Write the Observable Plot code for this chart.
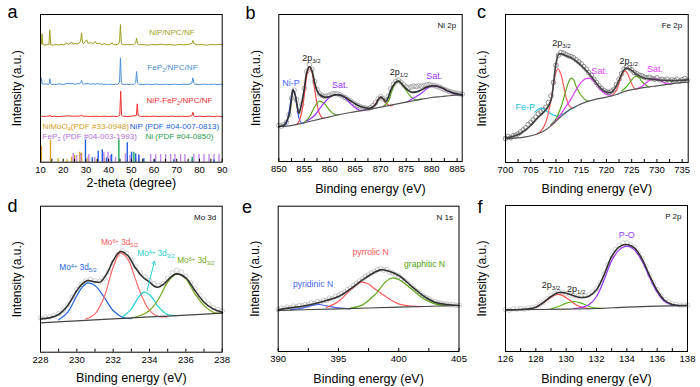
<!DOCTYPE html>
<html><head><meta charset="utf-8">
<script src="https://cdn.jsdelivr.net/npm/d3@7"></script>
<script src="https://cdn.jsdelivr.net/npm/@observablehq/plot@0.6"></script>
<style>
html,body{margin:0;padding:0;background:#fff;}
#fig{position:relative;width:700px;height:387px;overflow:hidden;background:#fff;}
#fig svg{position:absolute;overflow:visible;}
</style></head><body><div id="fig"></div>
<script>
// ---------------- Panel a : XRD (2-theta in degrees, intensity a.u.) ----------------
const xrdNiP = [[10,352],[10.4,354],[10.7,385],[11,353],[12,351],[13,353],[13.7,352],[14.1,397],[14.5,352],[15.5,351],[17,353],[18,351],[19,354],[20,352],[21,355],[21.7,358],[22.3,353],[23,356],[23.7,360],[24.3,354],[25,356],[26,355],[27,357],[27.6,362],[28.1,388],[28.5,358],[29,356],[29.7,362],[30.3,367],[30.8,358],[31.5,356],[32,360],[33,356],[34.2,362],[34.8,355],[36,357],[37,353],[38,355],[39,353],[40,352],[41,355],[41.5,358],[42,353],[43,352],[44,353],[44.8,360],[45.2,413],[45.6,360],[46,353],[47,352],[48,354],[49,352],[50,353],[51,352],[51.9,357],[52.3,372],[52.7,356],[53.5,352],[55,353],[57,351],[59,353],[61,352],[63,354],[65,352],[67,353],[69,351],[71,353],[73,352],[75,353],[76.6,356],[77.1,365],[77.5,356],[79,352],[81,353],[83,351],[85,353],[87,352],[89,353],[90,352]];
const xrdFeP2 = [[10,234],[10.2,240],[10.4,253],[10.7,236],[11.5,234],[12.5,235],[13.5,233],[13.8,236],[14.1,250],[14.4,235],[15,233],[16,234],[17,233],[18,235],[19,234],[20,233],[21,235],[22,237],[23,235],[24,236],[25,234],[26,235],[27,236],[27.7,238],[28.1,245],[28.5,236],[29,234],[30,235],[31,236],[32,234],[33,235],[34,234],[35,236],[36,234],[37,235],[38,233],[39,234],[40,233],[41,234],[42,233],[43,234],[44,233],[44.8,240],[45.2,313],[45.6,240],[46,234],[47,233],[48,234],[49,233],[50,234],[51,233],[51.9,238],[52.3,272],[52.7,238],[53.3,234],[55,233],[57,234],[59,233],[61,234],[63,233],[65,234],[67,233],[69,234],[71,233],[73,234],[75,233],[76.6,237],[77.1,253],[77.5,237],[78,234],[80,233],[82,234],[84,233],[86,234],[88,233],[90,234]];
const xrdComposite = [[10,137],[11,138],[12,137],[13,138],[13.8,138],[14.1,142],[14.4,138],[15,137],[16,138],[18,137],[20,138],[22,139],[24,138],[26,138],[27.7,139],[28.1,142],[28.5,138],[30,138],[32,137],[34,138],[36,137],[38,138],[40,137],[42,138],[44,137],[44.9,141],[45.3,213],[45.7,141],[46.2,138],[48,137],[50,138],[52.2,140],[52.6,175],[53,140],[54,137],[56,138],[58,137],[60,138],[62,137],[64,138],[66,137],[68,138],[70,137],[72,138],[74,137],[76.6,139],[77.1,150],[77.5,139],[78,137],[80,138],[82,137],[84,138],[86,137],[88,138],[90,137]];
const pdfNiMoO4 = [[10.4,48],[14.4,65],[17.8,10],[21.7,7],[23.7,15],[25.0,20],[27.3,30],[28.1,27],[30.9,15],[35.0,7],[38.2,10],[48.2,7]];
const pdfFeP2 = [[24.4,27],[25.9,20],[27.6,25],[31.3,23],[33.9,15],[37.9,30],[39.7,30],[40.8,20],[43.0,15],[47.4,25],[49.4,20],[51.9,15],[53.3,23],[58.5,23],[60.7,23],[62.9,23],[65.1,23],[67.3,23],[69.2,23],[71.7,23],[73.6,23],[77.5,23],[79.8,23],[82.0,23],[84.2,23],[86.4,23],[88.6,23]];
const pdfNiP = [[29.8,67],[32.8,13],[35.4,33],[37.2,37],[39.1,13],[41.3,23],[48.2,58],[50.1,30],[51.9,25],[53.3,20],[55.5,10],[60.2,7],[68.7,7],[76.8,7],[86.4,7]];
const pdfNi = [[44.5,67],[51.1,30],[76.8,15]];
const aTicks = [10,20,30,40,50,60,70,80,90];
const aMinor = [15,25,35,45,55,65,75,85];

// ---------------- Panel b : Ni 2p ----------------
const rawBStart = 850, rawBStep = 0.5;
const rawB = [108,106,110,118,140,190,214,185,150,172,220,270,290,276,240,215,203,198,195,197,199,203,204,203,200,196,192,187,182,177,172,168,164,162,160,159,162,168,176,188,194,188,183,196,218,232,240,244,238,230,224,222,224,226,225,227,226,228,230,231,229,228,226,223,220,216,213,210,208,206,205,203,202];
const bBackground = [[850,105],[852,107],[854,113],[856,120],[858,127],[860,134],[862,141],[864,147],[866,152],[868,157],[870,163],[872,169],[874,175],[876,181],[878,187],[880,192],[882,195],[884,198],[886,200]];
const bEnvelope = [[850,105],[851,109],[852,138],[852.5,188],[852.8,215],[853.2,200],[853.6,168],[853.95,145],[854.5,175],[855,218],[855.5,268],[856,285],[856.5,273],[857,238],[857.5,213],[858,201],[859,193],[860,195],[861,200],[862,199],[863,193],[864,183],[865,173],[866,165],[867,161],[868,160],[869,171],[869.5,185],[870,193],[870.5,188],[871,180],[871.5,193],[872,215],[873,238],[873.5,241],[874,235],[875,218],[876,208],[877,209],[878,215],[879,223],[880,227],[881,226],[882,221],[883,213],[884,207],[885,203],[886,200]];
const bNiP = [[851,107],[851.5,115],[852,148],[852.5,198],[852.8,215],[853.2,201],[853.6,163],[854,128],[854.5,115],[855,116]];
const bMain32 = [[853.5,111],[854,121],[854.5,148],[855,198],[855.5,258],[856,283],[856.5,268],[857,221],[857.5,173],[858,143],[858.5,131],[859,130]];
const bShoulder32 = [[855,117],[856,133],[857,163],[858,181],[859,173],[860,153],[861,141],[862,141]];
const bSat32 = [[855.5,121],[857,138],[858,158],[859,178],[860,193],[861,200],[862,200],[863,191],[864,175],[865,161],[866,153],[867,155]];
const bNiP12 = [[868,157],[869,173],[869.5,186],[870,193],[870.5,188],[871,176],[872,167],[872.5,170]];
const bMain12 = [[870.5,165],[871.5,180],[872,203],[872.5,225],[873,237],[873.5,241],[874,235],[875,213],[876,193],[877,184],[878,187]];
const bSat12 = [[875,178],[876,186],[877,195],[878,205],[879,218],[880,226],[881,226],[882,221],[883,213],[884,206],[885,201],[886,199]];
const bTicks = [850,855,860,865,870,875,880,885];
const bMinor = [852.5,857.5,862.5,867.5,872.5,877.5,882.5];

// ---------------- Panel c : Fe 2p ----------------
const rawCStart = 700, rawCStep = 0.5;
const rawC = [72,78,74,80,82,86,92,98,104,114,120,128,136,146,152,158,166,180,200,240,292,322,330,328,324,320,318,314,308,302,296,288,280,270,262,250,240,230,222,216,212,210,214,220,234,250,266,280,288,284,278,270,266,262,260,256,254,256,252,250,254,248,250,246,250,244,248,246,250,244,248,252,246];
const cBackground = [[700,71],[702,73],[704,77],[706,84],[707,90],[708,98],[709,110],[710,124],[711,138],[712,151],[713,161],[714,169],[715,176],[716,182],[718,190],[720,196],[722,204],[723,210],[724,215],[726,221],[728,226],[730,230],[732,234],[734,238],[736,241]];
const cEnvelope = [[700,74],[701,76],[702,81],[703,88],[704,98],[705,111],[706,128],[707,143],[708,158],[709,186],[709.5,236],[710,296],[710.5,324],[711,326],[712,320],[713,314],[714,304],[715,291],[716,276],[717,258],[718,238],[719,221],[720,211],[721,211],[722,231],[723,264],[723.5,278],[724,283],[725,276],[726,264],[727,256],[728,252],[729,250],[730,248],[732,246],[734,246],[736,248]];
const cFeP = [[705.8,151],[706.5,160],[707,163],[707.5,161],[708,156],[709,146],[710,140],[711,143],[712,151],[713,160],[714,168]];
const cMain32 = [[706.3,86],[707,94],[708,121],[709,186],[709.5,231],[710,271],[710.4,281],[711,264],[711.5,231],[712,196],[712.5,174],[713,164],[713.5,164]];
const cSecond32 = [[709,114],[710,131],[711,166],[712,218],[712.5,241],[713,253],[713.5,248],[714,228],[715,201],[716,186],[716.5,184]];
const cSat32 = [[709,111],[710,126],[711,146],[712,168],[713,191],[714,218],[715,241],[716,252],[717,251],[718,236],[719,216],[720,204],[721,202]];
const cMain12 = [[721,199],[722,216],[722.5,238],[723,261],[723.5,273],[724,271],[724.5,256],[725,236],[725.5,223],[726,220]];
const cSecond12 = [[723,214],[724,228],[725,248],[725.7,258],[726.5,254],[727,243],[728,230],[728.5,226]];
const cSat12 = [[726,221],[727,228],[728,241],[729,250],[729.7,252],[730.5,248],[731,242],[732,236],[733,236]];
const cTicks = [700,705,710,715,720,725,730,735];
const cMinor = [702.5,707.5,712.5,717.5,722.5,727.5,732.5];

// ---------------- Panel d : Mo 3d ----------------
const rawDStart = 228, rawDStep = 0.25;
const rawD = [103,105,106,110,116,126,142,165,188,204,214,218,214,212,222,242,268,292,304,296,276,256,238,226,216,206,200,206,222,238,246,240,228,208,190,170,156,144,134,128,124];
const dBackground = [[228,88],[230,94],[232,100],[234,106],[236,111],[238,117]];
const dEnvelope = [[228,100],[228.5,103],[229,113],[229.5,140],[230,185],[230.3,205],[230.6,215],[231,211],[231.3,211],[231.7,240],[232,275],[232.4,302],[232.8,290],[233.2,255],[233.6,227],[234,210],[234.4,195],[234.8,205],[235.2,227],[235.5,235],[236,223],[236.5,185],[237,150],[237.5,130],[238,120]];
const dMo4_52 = [[229,97],[229.5,120],[230,170],[230.3,195],[230.6,208],[231,200],[231.5,165],[232,125],[232.5,105],[233,101]];
const dMo6_52 = [[230.5,100],[231,115],[231.5,165],[232,255],[232.4,298],[232.8,280],[233.2,223],[233.6,165],[234,125],[234.5,107],[235,107]];
const dMo4_32 = [[232.5,105],[233,130],[233.4,165],[233.7,180],[234.1,167],[234.5,135],[235,113],[235.5,110]];
const dMo6_32 = [[233,103],[233.5,110],[234,125],[234.5,160],[235,210],[235.5,235],[236,220],[236.5,175],[237,140],[237.5,120],[238,117]];
const dTicks = [228,230,232,234,236,238];
const dMinor = [229,231,233,235,237];

// ---------------- Panel e : N 1s ----------------
const rawEStart = 390, rawEStep = 0.25;
const rawE = [126,130,128,133,131,136,134,138,137,141,140,146,144,150,148,154,154,160,158,166,168,174,178,186,190,198,204,212,218,226,230,236,240,246,248,244,246,238,236,230,226,218,212,204,196,188,180,174,168,162,158,152,150,146,145,142,142,140,141,138,139];
const eBackground = [[390,123],[395,128],[400,133],[405,138]];
const eEnvelope = [[390,125],[391,131],[392,136],[393,143],[394,153],[395,165],[396,188],[397,215],[398,238],[398.5,245],[399,243],[400,228],[401,198],[402,168],[403,148],[404,141],[405,138]];
const ePyridinic = [[391,125],[392,130],[393,140],[393.4,141],[394,137],[395,131],[396,128]];
const ePyrrolic = [[394,132],[395,150],[396,185],[396.9,208],[397.5,202],[398,188],[399,163],[400,143],[401,136],[402,135]];
const eGraphitic = [[396,130],[397,140],[398,170],[399,212],[399.5,221],[400,216],[401,190],[402,160],[403,143],[404,139]];
const eTicks = [390,395,400,405];
const eMinor = [392.5,397.5,402.5];

// ---------------- Panel f : P 2p ----------------
const rawFStart = 126, rawFStep = 0.25;
const rawF = [126,124,128,127,129,127,130,132,134,140,148,158,167,174,178,177,174,170,168,164,164,166,170,178,188,206,232,260,288,306,318,326,326,320,312,296,280,256,230,206,186,168,156,148,143,141,139,140,139];
const fBackground = [[126,125],[130,127],[132,129],[134,133],[136,136],[138,138]];
const fEnvelope = [[126,125],[127,126],[128,133],[128.5,147],[129,165],[129.5,177],[130,175],[130.5,167],[131,162],[131.5,166],[132,185],[132.5,230],[133,285],[133.5,314],[134,321],[134.5,311],[135,278],[135.5,228],[136,183],[136.5,153],[137,141],[137.5,138],[138,138]];
const f2p32 = [[128,133],[128.5,147],[129,163],[129.4,171],[129.8,167],[130.2,155],[130.7,139],[131.2,131],[131.6,129]];
const f2p12 = [[129,128],[129.5,135],[130,145],[130.5,150],[131,145],[131.5,135],[132,130],[132.5,129]];
const fPO = [[130.5,129],[131,132],[131.5,140],[132,165],[132.5,215],[133,272],[133.5,305],[134,316],[134.5,305],[135,272],[135.5,222],[136,178],[136.5,150],[137,140],[137.5,137]];
const fTicks = [126,128,130,132,134,136,138];
const fMinor = [127,129,131,133,135,137];

// ---------------- text ----------------
const aNotes = [
  {t:"NiP/NPC/NF", x:67.9, y:389, c:"#a3a320"},
  {t:"FeP_{2}/NPC/NF", x:68.1, y:284, c:"#4a90d9"},
  {t:"NiP-FeP_{2}/NPC/NF", x:71.2, y:185, c:"#f03030"},
  {t:"NiMoO_{4}(PDF #33-0948)", x:10.9, y:107, c:"#d4a017", a:"start"},
  {t:"NiP (PDF #04-007-0813)", x:49.3, y:107, c:"#1a5fe0", a:"start"},
  {t:"FeP_{2} (PDF #04-003-1993)", x:10.9, y:77, c:"#b070e0", a:"start"},
  {t:"Ni (PDF #04-0850)", x:56.2, y:77, c:"#1fa050", a:"start"}
];
const bNotes = [
  {t:"2p_{3/2}", x:856.4, y:309, c:"#222"},
  {t:"Ni-P", x:852.4, y:234, c:"#4466ff"},
  {t:"Sat.", x:862.0, y:228, c:"#9b30ff"},
  {t:"2p_{1/2}", x:873.6, y:267, c:"#222"},
  {t:"Sat.", x:880.5, y:255, c:"#9b30ff"}
];
const cNotes = [
  {t:"2p_{3/2}", x:711.1, y:357, c:"#222"},
  {t:"2p_{1/2}", x:724.4, y:303, c:"#222"},
  {t:"Sat.", x:718.6, y:273, c:"#e040fb"},
  {t:"Sat.", x:729.6, y:279, c:"#e040fb"},
  {t:"Fe-P", x:703.9, y:165, c:"#22bbee"}
];
const dNotes = [
  {t:"Mo^{4+} 3d_{5/2}", x:230.06, y:254, c:"#2266dd"},
  {t:"Mo^{6+} 3d_{5/2}", x:232.35, y:329, c:"#ff5a5a"},
  {t:"Mo^{4+} 3d_{3/2}", x:234.35, y:296, c:"#1fcccc"},
  {t:"Mo^{6+} 3d_{3/2}", x:236.55, y:275, c:"#78a81e"}
];
const dArrow = [{x1:233.87, y1:185, x2:234.27, y2:273}];
const eNotes = [
  {t:"pyrrolic N", x:397.66, y:297, c:"#ff5555"},
  {t:"graphitic N", x:402.14, y:261, c:"#55a010"},
  {t:"pyridinic N", x:392.89, y:201, c:"#4466ff"}
];
const fNotes = [
  {t:"P-O", x:133.99, y:348, c:"#a040ff"},
  {t:"2p_{3/2}", x:129.0, y:198, c:"#222"},
  {t:"2p_{1/2}", x:130.66, y:186, c:"#222"}
];

// ---------------- drawing ----------------
const FONT = '"Liberation Sans", Arial, Helvetica, sans-serif';
const X = d => d[0], Y = d => d[1];
const fig = document.getElementById("fig");
const grid = (start, step, vals) => vals.map((v, i) => [start + step * i, v]);

function richify(svg) {
  svg.querySelectorAll("text").forEach(t => {
    const s = t.textContent;
    if (!/[_^]\{/.test(s)) return;
    while (t.firstChild) t.removeChild(t.firstChild);
    const re = /([_^])\{([^}]*)\}|([^_^]+)/g; let m;
    while ((m = re.exec(s))) {
      const ts = document.createElementNS("http://www.w3.org/2000/svg", "tspan");
      if (m[3] !== undefined) ts.textContent = m[3];
      else { ts.textContent = m[2]; ts.setAttribute("font-size", "0.68em"); ts.setAttribute("baseline-shift", m[1] === "^" ? "40%" : "-25%"); }
      t.appendChild(ts);
    }
  });
}

function panel(cfg) {
  const [cx, cy, cw, ch] = cfg.cell;
  const [fx0, fx1, fy0, fy1] = cfg.frame;
  const marks = [];
  for (const s of cfg.series) {
    if (s.type === "dot") marks.push(Plot.dot(s.data, {x: X, y: Y, r: s.r || 2.3, stroke: s.color, strokeWidth: 0.8, fill: "none"}));
    else if (s.type === "rule") marks.push(Plot.ruleX(s.data, {x: X, y1: 0, y2: Y, stroke: s.color, strokeWidth: s.w || 1.3}));
    else marks.push(Plot.line(s.data, {x: X, y: Y, stroke: s.color, strokeWidth: s.w || 1.2, curve: s.curve || "catmull-rom"}));
  }
  if (cfg.arrows) for (const a of cfg.arrows) marks.push(Plot.arrow(a.data, {x1: "x1", y1: "y1", x2: "x2", y2: "y2", stroke: a.color, strokeWidth: 1, headLength: 5}));
  for (const n of cfg.notes || []) marks.push(Plot.text([n], {x: "x", y: "y", text: "t", fill: n.c, fontSize: cfg.noteSize || 8.5, textAnchor: n.a || "middle", lineAnchor: "middle"}));
  marks.push(Plot.frame({stroke: "#000", strokeWidth: 1}));
  marks.push(Plot.axisX(cfg.ticks.concat(cfg.minor), {tickSize: -3, fill: "none", stroke: "#000", label: null}));
  marks.push(Plot.axisX(cfg.ticks, {tickSize: 0, tickPadding: 4, fill: "#000", fontSize: 9.5, label: null}));
  marks.push(Plot.text([cfg.xTitle], {frameAnchor: "bottom", dy: cfg.xTitleDy, text: d => d, fontSize: 12.5, fill: "#000", textAnchor: "middle", lineAnchor: "middle"}));
  marks.push(Plot.text(["Intensity (a.u.)"], {frameAnchor: "left", dx: -23, rotate: -90, text: d => d, fontSize: 12, fill: "#000", textAnchor: "middle", lineAnchor: "middle"}));
  marks.push(Plot.text([cfg.letter], {frameAnchor: "top-left", dx: cfg.letterPos[0] - fx0, dy: cfg.letterPos[1] - fy0, text: d => d, fontSize: 18, textAnchor: "start", lineAnchor: "bottom", fill: "#000"}));
  if (cfg.corner) marks.push(Plot.text([cfg.corner], {frameAnchor: "top-right", dx: -6, dy: 11, text: d => d, fontSize: 8, textAnchor: "end", lineAnchor: "middle", fill: "#111"}));
  const svg = Plot.plot({
    width: cw, height: ch,
    marginLeft: fx0 - cx, marginRight: cx + cw - fx1, marginTop: fy0 - cy, marginBottom: cy + ch - fy1,
    x: {domain: cfg.xDomain},
    y: {domain: [0, cfg.yMax], axis: null},
    style: {fontFamily: FONT, fontSize: "9.5px", background: "transparent", color: "#000", overflow: "visible"},
    marks
  });
  svg.style.left = cx + "px";
  svg.style.top = cy + "px";
  richify(svg);
  fig.appendChild(svg);
}

panel({
  cell: [0, 0, 235, 195], frame: [40, 221.7, 14, 161.7], xDomain: [10, 90], yMax: 443,
  ticks: aTicks, minor: aMinor, xTitle: "2-theta (degree)", xTitleDy: 21, letter: "a", letterPos: [7, 17],
  series: [
    {type: "rule", data: pdfNiMoO4, color: "#d9a520", w: 1.4},
    {type: "rule", data: pdfFeP2, color: "#c089ea", w: 1.4},
    {type: "rule", data: pdfNiP, color: "#1f5fe0", w: 1.4},
    {type: "rule", data: pdfNi, color: "#1fa85a", w: 1.4},
    {type: "line", data: xrdNiP, color: "#9c9c1c", w: 1, curve: "linear"},
    {type: "line", data: xrdFeP2, color: "#4a90d9", w: 1, curve: "linear"},
    {type: "line", data: xrdComposite, color: "#f2302f", w: 1, curve: "linear"}
  ],
  notes: aNotes, noteSize: 8.1
});

panel({
  cell: [235, 0, 235, 195], frame: [278.3, 461.7, 14, 161], xDomain: [850, 886], yMax: 441,
  ticks: bTicks, minor: bMinor, xTitle: "Binding energy (eV)", xTitleDy: 27, letter: "b", letterPos: [245, 18], corner: "Ni 2p",
  series: [
    {type: "dot", data: grid(rawBStart, rawBStep, rawB), color: "#9a9a9a"},
    {type: "line", data: bNiP, color: "#3355ff"},
    {type: "line", data: bMain32, color: "#ff4d4d"},
    {type: "line", data: bShoulder32, color: "#5aa51a"},
    {type: "line", data: bSat32, color: "#9b30ff"},
    {type: "line", data: bNiP12, color: "#ff4d4d"},
    {type: "line", data: bMain12, color: "#5aa51a"},
    {type: "line", data: bSat12, color: "#9b30ff"},
    {type: "line", data: bBackground, color: "#555", w: 1.2},
    {type: "line", data: bEnvelope, color: "#333", w: 1.7}
  ],
  notes: bNotes, noteSize: 9
});

panel({
  cell: [470, 0, 230, 195], frame: [505, 687.7, 14, 162], xDomain: [700, 736.2], yMax: 444,
  ticks: cTicks, minor: cMinor, xTitle: "Binding energy (eV)", xTitleDy: 26, letter: "c", letterPos: [476.5, 17.5], corner: "Fe 2p",
  series: [
    {type: "dot", data: grid(rawCStart, rawCStep, rawC), color: "#7a7a7a"},
    {type: "line", data: cFeP, color: "#29c5f6"},
    {type: "line", data: cMain32, color: "#ff5a5a"},
    {type: "line", data: cSecond32, color: "#5ca91c"},
    {type: "line", data: cSat32, color: "#e040fb"},
    {type: "line", data: cMain12, color: "#ff5a5a"},
    {type: "line", data: cSecond12, color: "#5ca91c"},
    {type: "line", data: cSat12, color: "#e040fb"},
    {type: "line", data: cBackground, color: "#555", w: 1.2},
    {type: "line", data: cEnvelope, color: "#444", w: 1.7}
  ],
  notes: cNotes, noteSize: 9
});

panel({
  cell: [0, 195, 235, 192], frame: [40, 221.7, 205.7, 351.7], xDomain: [228, 238], yMax: 438,
  ticks: dTicks, minor: dMinor, xTitle: "Binding energy (eV)", xTitleDy: 26, letter: "d", letterPos: [7, 211.5], corner: "Mo 3d",
  series: [
    {type: "dot", data: grid(rawDStart, rawDStep, rawD), color: "#c4c4c4"},
    {type: "line", data: dMo4_52, color: "#2266dd"},
    {type: "line", data: dMo6_52, color: "#ff6a6a"},
    {type: "line", data: dMo4_32, color: "#20d0d0"},
    {type: "line", data: dMo6_32, color: "#78a81e"},
    {type: "line", data: dBackground, color: "#444", w: 1.2},
    {type: "line", data: dEnvelope, color: "#333", w: 1.6}
  ],
  arrows: [{data: dArrow, color: "#20d0d0"}],
  notes: dNotes, noteSize: 8.3
});

panel({
  cell: [235, 195, 235, 192], frame: [277.7, 458.5, 205.7, 351], xDomain: [390, 405], yMax: 436,
  ticks: eTicks, minor: eMinor, xTitle: "Binding energy (eV)", xTitleDy: 27, letter: "e", letterPos: [241.5, 212], corner: "N 1s",
  series: [
    {type: "dot", data: grid(rawEStart, rawEStep, rawE), color: "#bdbdbd"},
    {type: "line", data: ePyridinic, color: "#4d66ff"},
    {type: "line", data: ePyrrolic, color: "#ff5c5c"},
    {type: "line", data: eGraphitic, color: "#5ea814"},
    {type: "line", data: eBackground, color: "#444", w: 1.2},
    {type: "line", data: eEnvelope, color: "#333", w: 1.6}
  ],
  notes: eNotes, noteSize: 8.6
});

panel({
  cell: [470, 195, 230, 192], frame: [505, 687, 205, 351], xDomain: [126, 138], yMax: 438,
  ticks: fTicks, minor: fMinor, xTitle: "Binding energy (eV)", xTitleDy: 27, letter: "f", letterPos: [477, 212], corner: "P 2p",
  series: [
    {type: "dot", data: grid(rawFStart, rawFStep, rawF), color: "#c8c8c8"},
    {type: "line", data: f2p32, color: "#ff5050"},
    {type: "line", data: f2p12, color: "#5fb31a"},
    {type: "line", data: fPO, color: "#9b30ff"},
    {type: "line", data: fBackground, color: "#444", w: 1.2},
    {type: "line", data: fEnvelope, color: "#333", w: 1.6}
  ],
  notes: fNotes, noteSize: 9
});
</script>
</body></html>
